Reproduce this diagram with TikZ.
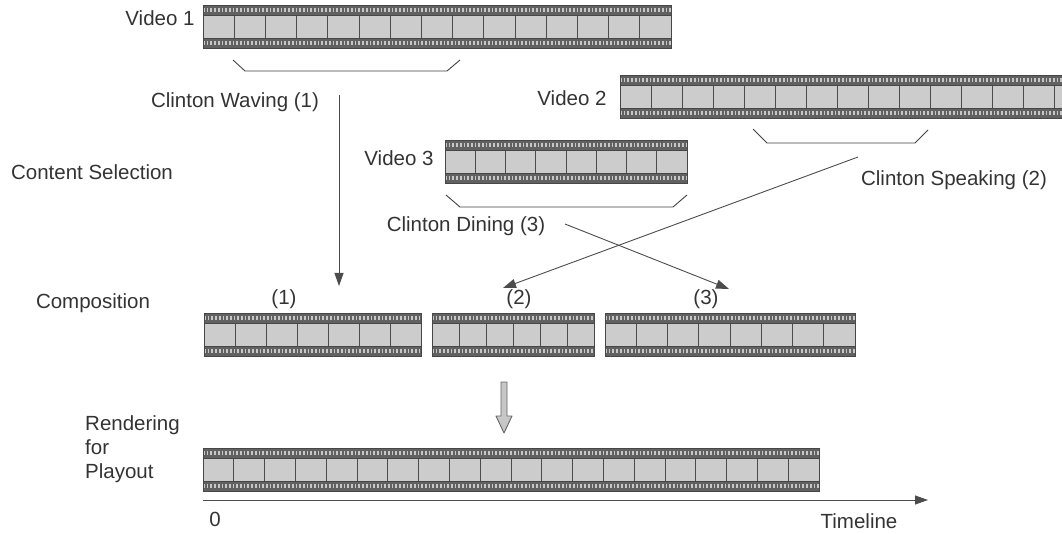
\documentclass[tikz,border=0pt]{standalone}
\usepackage{fontspec}
\setmainfont{Liberation Sans}
\usetikzlibrary{arrows.meta}

\tikzset{
  film/.style={fill=black!62, inner sep=0pt, outer sep=0pt, minimum height=43pt, anchor=north west},
  perf/.style={draw=black!22, line width=4.2pt, dash pattern=on 1.7pt off 2pt},
  frames/.style={fill=black!20},
  framesep/.style={draw=black!70, line width=0.9pt},
  filmedge/.style={draw=black!72, line width=0.9pt},
  lbl/.style={text=black!80, font=\fontsize{20.5pt}{24pt}\selectfont, inner sep=0pt},
  bracket/.style={draw=black!75, line width=0.9pt},
  pick/.style={draw=black!70, line width=0.9pt, -{Triangle[length=13pt,width=9pt]}},
  bigarrow/.style={draw=black!60, fill=black!22, line width=0.9pt, line join=round},
}

% film strip: name, left, top, width, number of frames
\newcommand{\filmstrip}[5]{%
  \node[film, minimum width=#4pt] (#1) at (#2,#3) {};
  \fill[frames] (#2,#3+10) rectangle (#2+#4,#3+33);
  \draw[perf] (#2,#3+5) -- (#2+#4,#3+5);
  \draw[perf] (#2,#3+38) -- (#2+#4,#3+38);
  \pgfmathtruncatemacro\lastframe{#5-1}
  \foreach \k in {1,...,\lastframe}
    \draw[framesep] ({#2+#4*\k/#5},#3+10) -- ({#2+#4*\k/#5},#3+33);
  \draw[filmedge] (#2,#3+10) -- (#2+#4,#3+10) (#2,#3+33) -- (#2+#4,#3+33);
  \draw[filmedge] (#1.north west) rectangle (#1.south east);
}

\begin{document}
\begin{tikzpicture}[x=1pt, y=-1pt]
  \useasboundingbox (0,0) rectangle (1062,534);
  % Source videos, composition and playout strips:
  \filmstrip{vidA}{203}{5}{468}{15}
  \filmstrip{vidB}{620}{75}{465}{15}
  \filmstrip{vidC}{445}{140}{242}{8}
  \filmstrip{compA}{204}{313}{217}{7}
  \filmstrip{compB}{432}{313}{162}{6}
  \filmstrip{compC}{605}{313}{250}{8}
  \filmstrip{play}{203}{448}{616}{20}

  % Labels:
  \node[lbl] (vidAlbl) at (160,18) {Video 1};
  \node[lbl] (wavelbl) at (235,102) {Clinton Waving (1)};
  \node[lbl] (vidBlbl) at (572,98) {Video 2};
  \node[lbl] (sellbl) at (92,172) {Content Selection};
  \node[lbl] (vidClbl) at (399,158) {Video 3};
  \node[lbl] (spklbl) at (954,180) {Clinton Speaking (2)};
  \node[lbl] (dinlbl) at (466,226) {Clinton Dining (3)};
  \node[lbl] (complbl) at (93,303) {Composition};
  \node[lbl] (numA) at (284,299) {(1)};
  \node[lbl] (numB) at (519,299) {(2)};
  \node[lbl] (numC) at (706,299) {(3)};
  \node[lbl, align=left, anchor=west] (playlbl) at (85,449) {Rendering\\for\\Playout};
  \node[lbl] (zero) at (215,519) {0};
  \node[lbl] (timelbl) at (859,521) {Timeline};

  % Selection brackets:
  \draw[bracket] (233,60) -- (245,71) -- (447,71) -- (460,60);
  \draw[bracket] (753,129) -- (767,143) -- (915,143) -- (928,130);
  \draw[bracket] (446,195) -- (460,207) -- (673,207) -- (687,195);

  % Arrows:
  \coordinate (waveA) at (339,95);
  \coordinate (waveB) at (339,286);
  \coordinate (spkA) at (858,157);
  \coordinate (spkB) at (503,288);
  \coordinate (dinA) at (565,224);
  \coordinate (dinB) at (729,289);
  \coordinate (tlA) at (203,500);
  \coordinate (tlB) at (928,500);
  \draw[pick] (waveA) -- (waveB);
  \draw[pick] (spkA) -- (spkB);
  \draw[pick] (dinA) -- (dinB);
  \draw[pick] (tlA) -- (tlB);
  \draw[bigarrow] (501,382) -- (507,382) -- (507,416) -- (512,416) -- (504,433) -- (496,416) -- (501,416) -- cycle;
\end{tikzpicture}
\end{document}
